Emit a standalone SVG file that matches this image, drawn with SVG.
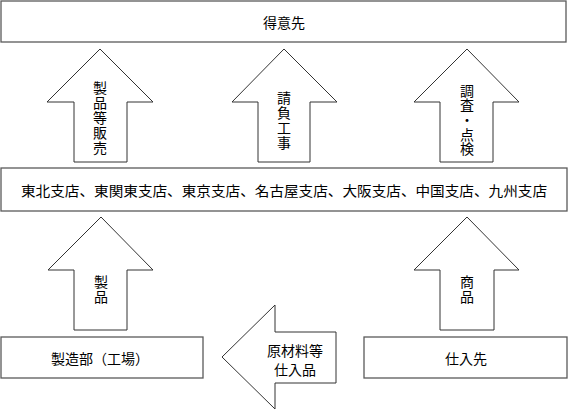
<svg xmlns="http://www.w3.org/2000/svg" width="568" height="411" viewBox="0 0 568 411">
<style>
.box{fill:#fff;stroke:#5a5a5a;stroke-width:1.3}
.arrow{fill:#fff;stroke:#333;stroke-width:1}
text{font-family:"Noto Sans CJK JP","Noto Sans",sans-serif;font-size:14px;fill:#000;text-anchor:middle;dominant-baseline:central}
</style>
<rect width="568" height="411" fill="#fff"/>
<g id="connectors">
<g id="arrow-seihin-hanbai">
<path class="arrow" d="M100,49 L153,102 L127,102 L127,162 L74,162 L74,102 L47,102 Z"/>
<text><tspan x="100" y="87">製</tspan><tspan x="100" y="102">品</tspan><tspan x="100" y="117">等</tspan><tspan x="100" y="132">販</tspan><tspan x="100" y="147">売</tspan></text>
</g>
<g id="arrow-ukeoi">
<path class="arrow" d="M284,49 L337,102 L310,102 L310,162 L258,162 L258,102 L232,102 Z"/>
<text><tspan x="284" y="97">請</tspan><tspan x="284" y="112">負</tspan><tspan x="284" y="127">工</tspan><tspan x="284" y="142">事</tspan></text>
</g>
<g id="arrow-chousa">
<path class="arrow" d="M467,49 L519,102 L493,102 L493,162 L440,162 L440,102 L414,102 Z"/>
<text><tspan x="467" y="90">調</tspan><tspan x="467" y="104">査</tspan><tspan x="467" y="119">・</tspan><tspan x="467" y="134">点</tspan><tspan x="467" y="148">検</tspan></text>
</g>
<g id="arrow-seihin">
<path class="arrow" d="M101,217 L153,270 L127,270 L127,330 L74,330 L74,270 L48,270 Z"/>
<text><tspan x="101" y="281">製</tspan><tspan x="101" y="296">品</tspan></text>
</g>
<g id="arrow-shouhin">
<path class="arrow" d="M467,217 L519,270 L494,270 L494,330 L440,330 L440,270 L414,270 Z"/>
<text><tspan x="467" y="281">商</tspan><tspan x="467" y="296">品</tspan></text>
</g>
<g id="arrow-genzairyou">
<path class="arrow" d="M222,357 L275,305 L275,332 L336,332 L336,383 L275,383 L275,409 Z"/>
<text><tspan x="295" y="350">原材料等</tspan><tspan x="295" y="369">仕入品</tspan></text>
</g>
</g>
<g id="tokuisaki">
<rect class="box" x="1" y="1" width="565" height="41"/>
<text x="284" y="22">得意先</text>
</g>
<g id="shiten">
<rect class="box" x="1" y="168" width="566" height="43"/>
<text x="284" y="190" font-size="14.8" textLength="526" lengthAdjust="spacingAndGlyphs">東北支店、東関東支店、東京支店、名古屋支店、大阪支店、中国支店、九州支店</text>
</g>
<g id="seizoubu">
<rect class="box" x="1" y="337" width="202" height="41"/>
<text x="100" y="358">製造部（工場）</text>
</g>
<g id="shiiresaki">
<rect class="box" x="364" y="337" width="203" height="41"/>
<text x="466" y="358">仕入先</text>
</g>
</svg>
